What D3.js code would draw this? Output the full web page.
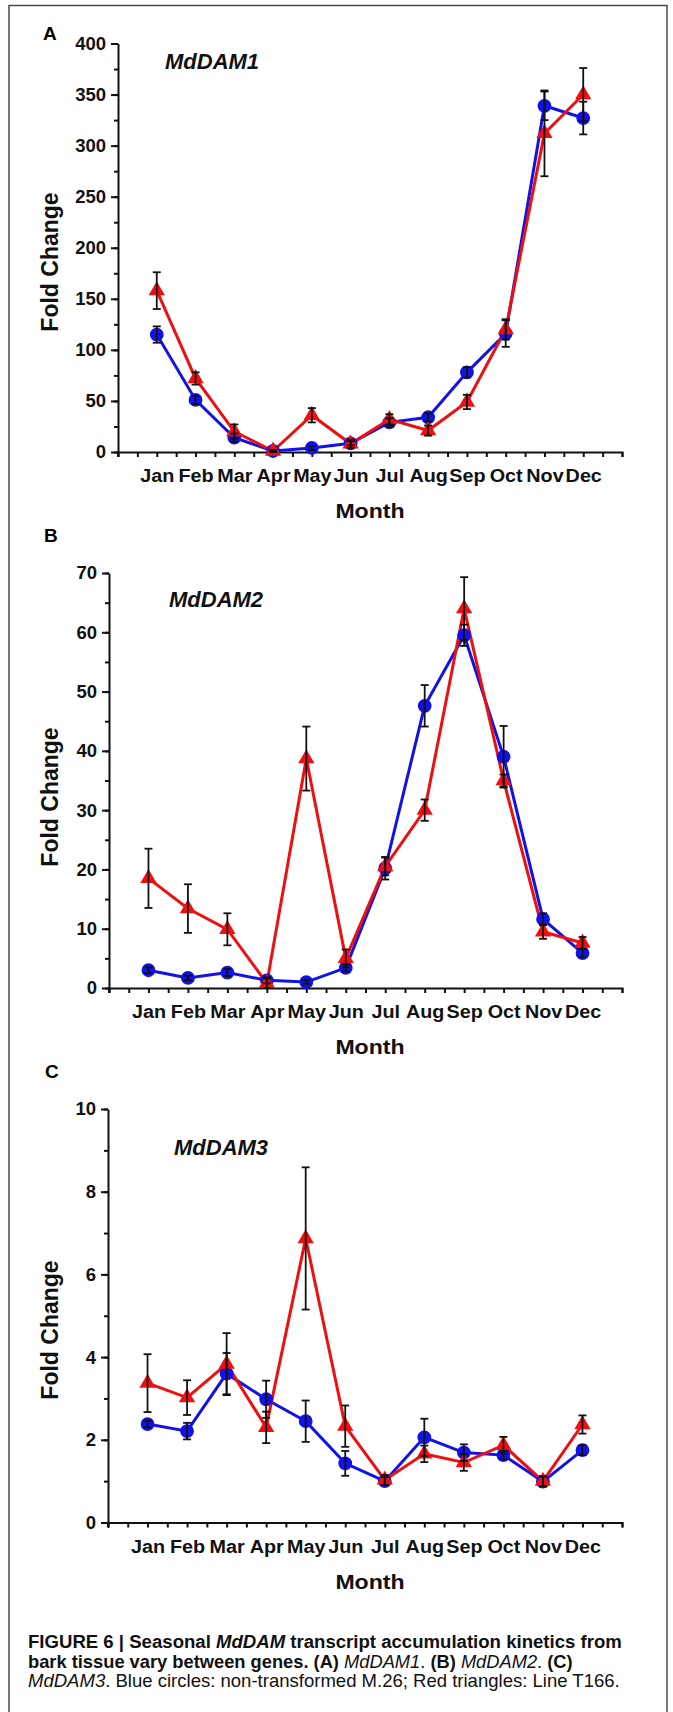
<!DOCTYPE html>
<html><head><meta charset="utf-8">
<script src="https://cdn.jsdelivr.net/npm/d3@7"></script>
<style>
html,body{margin:0;padding:0;background:#fff;}
svg{display:block;}
text{font-family:"Liberation Sans", Arial, sans-serif;}
</style></head>
<body>
<script>
// ---------- DATA ----------
const months = ["Jan","Feb","Mar","Apr","May","Jun","Jul","Aug","Sep","Oct","Nov","Dec"];

const dam1Blue    = [115, 51, 14, 1, 4, 8.5, 29, 34, 78, 116, 339, 327];
const dam1BlueErr = [8, 4, 4, 1, 2, 2, 4, 4, 5, 13, 14, 16];
const dam1Red     = [158, 72, 20, 1, 36, 8, 32, 21, 49, 120, 312, 350];
const dam1RedErr  = [18, 6, 7, 1, 7, 4, 5, 5, 7, 10, 42, 26];

const dam2Blue    = [3.0, 1.7, 2.6, 1.3, 1.0, 3.4, 20.2, 47.6, 59.5, 39.0, 11.6, 5.9];
const dam2BlueErr = [0.5, 0.4, 0.6, 0.5, 0.3, 0.6, 1.9, 3.5, 1.8, 5.2, 1.0, 0.7];
const dam2Red     = [18.5, 13.4, 9.9, 0.8, 38.7, 5.0, 20.5, 30.0, 64.0, 35.0, 9.5, 7.6];
const dam2RedErr  = [5.0, 4.1, 2.7, 0.8, 5.4, 1.5, 1.5, 1.8, 5.3, 1.0, 1.2, 1.0];

const dam3Blue    = [2.38, 2.21, 3.6, 2.98, 2.45, 1.43, 1.0, 2.06, 1.69, 1.63, 0.99, 1.75];
const dam3BlueErr = [0.08, 0.2, 0.5, 0.45, 0.5, 0.3, 0.1, 0.45, 0.2, 0.1, 0.12, 0.12];
const dam3Red     = [3.37, 3.02, 3.83, 2.3, 6.87, 2.33, 1.03, 1.66, 1.45, 1.87, 1.0, 2.37];
const dam3RedErr  = [0.7, 0.42, 0.75, 0.38, 1.72, 0.5, 0.12, 0.2, 0.2, 0.2, 0.12, 0.22];

const geneNames = ["MdDAM1","MdDAM2","MdDAM3"];
const panelLetters = ["A","B","C"];
const yMaxes = [400, 70, 10];
const yMajorSteps = [50, 10, 2];
const yLabel = "Fold Change";
const xLabel = "Month";

// ---------- LAYOUT ----------
const W = 673, H = 1712;
const BLUE = "#1212e6", RED = "#ee1010";

const panels = [
  {x0:118, x1:622, yTop:43.5, yBot:452, letter:[43,39.5], gene:[165,69], ylab:262,
   blue:dam1Blue, blueErr:dam1BlueErr, red:dam1Red, redErr:dam1RedErr},
  {x0:109, x1:622, yTop:573, yBot:988, letter:[44,541.5], gene:[169,607], ylab:797,
   blue:dam2Blue, blueErr:dam2BlueErr, red:dam2Red, redErr:dam2RedErr},
  {x0:108, x1:622, yTop:1109, yBot:1522.5, letter:[45,1078], gene:[174,1155], ylab:1330,
   blue:dam3Blue, blueErr:dam3BlueErr, red:dam3Red, redErr:dam3RedErr}
];

const svg = d3.select("body").append("svg").attr("width", W).attr("height", H);
svg.append("rect").attr("width", W).attr("height", H).attr("fill", "#fff");
svg.append("rect").attr("x", 9).attr("y", 5.5).attr("width", 658).attr("height", 1712)
  .attr("fill", "none").attr("stroke", "#4a4a4a").attr("stroke-width", 1.5);

panels.forEach((p, pi) => {
  const g = svg.append("g");
  const x = d3.scaleLinear().domain([0, 13]).range([p.x0, p.x1]);
  const y = d3.scaleLinear().domain([0, yMaxes[pi]]).range([p.yBot, p.yTop]);
  const step = yMajorSteps[pi];

  // x axis: ticks every half month
  const halfTicks = d3.range(0, 13.01, 0.5);
  const xAx = g.append("g").attr("transform", `translate(0,${p.yBot})`)
    .call(d3.axisBottom(x).tickValues(halfTicks).tickSizeOuter(0).tickSize(5).tickFormat(""));
  xAx.select(".domain").attr("stroke-width", 2).attr("stroke", "#111");
  xAx.selectAll(".tick line").attr("stroke-width", 2).attr("stroke", "#111");
  // x labels
  const xl = g.append("g").attr("transform", `translate(0,${p.yBot})`)
    .call(d3.axisBottom(x).tickValues(d3.range(1, 13)).tickSize(0).tickPadding(0)
      .tickFormat(d => months[d - 1]));
  xl.select(".domain").remove();
  xl.selectAll(".tick text").attr("y", 0).attr("dy", null)
    .attr("transform", "translate(0,30) scale(1.13,1)")
    .attr("font-size", 17.5).attr("font-weight", "bold").attr("fill", "#111")
    .attr("font-family", "Liberation Sans, Arial, sans-serif");

  // y axis minor
  const yMinor = g.append("g").attr("transform", `translate(${p.x0},0)`)
    .call(d3.axisLeft(y).tickValues(d3.range(0, yMaxes[pi] + 1e-9, step / 2)).tickSize(4).tickSizeOuter(0).tickFormat(""));
  yMinor.select(".domain").attr("stroke-width", 2).attr("stroke", "#111");
  yMinor.selectAll(".tick line").attr("stroke-width", 2).attr("stroke", "#111");
  const yMajor = g.append("g").attr("transform", `translate(${p.x0},0)`)
    .call(d3.axisLeft(y).tickValues(d3.range(0, yMaxes[pi] + 1e-9, step)).tickSize(7).tickSizeOuter(0).tickPadding(5));
  yMajor.select(".domain").remove();
  yMajor.selectAll(".tick line").attr("stroke-width", 2).attr("stroke", "#111");
  yMajor.selectAll(".tick text").attr("font-size", 18.5).attr("font-weight", "bold").attr("fill", "#111")
    .attr("font-family", "Liberation Sans, Arial, sans-serif");
  // extend y axis slightly below x axis
  g.append("line").attr("x1", p.x0).attr("x2", p.x0).attr("y1", p.yBot).attr("y2", p.yBot + 5)
    .attr("stroke", "#111").attr("stroke-width", 2);

  // axis titles
  g.append("text").attr("transform", `translate(58,${p.ylab}) rotate(-90)`)
    .attr("text-anchor", "middle").attr("font-size", 23).attr("font-weight", "bold").attr("fill", "#111")
    .text(yLabel);
  g.append("text").attr("transform", `translate(370,${p.yBot + 66}) scale(1.1,1)`).attr("text-anchor", "middle")
    .attr("font-size", 21).attr("font-weight", "bold").attr("fill", "#111").text(xLabel);

  // panel letter & gene name
  g.append("text").attr("x", p.letter[0]).attr("y", p.letter[1]).attr("font-size", 19)
    .attr("font-weight", "bold").attr("fill", "#000").text(panelLetters[pi]);
  g.append("text").attr("x", p.gene[0]).attr("y", p.gene[1]).attr("font-size", 22)
    .attr("font-weight", "bold").attr("font-style", "italic").attr("fill", "#111").text(geneNames[pi]);

  const line = d3.line().x((d, i) => x(i + 1)).y(d => y(d));
  g.append("path").datum(p.blue).attr("d", line).attr("fill", "none")
    .attr("stroke", BLUE).attr("stroke-width", 3);
  g.append("path").datum(p.red).attr("d", line).attr("fill", "none")
    .attr("stroke", RED).attr("stroke-width", 3);

  g.selectAll(".circ").data(p.blue).enter().append("path")
    .attr("transform", (d, i) => `translate(${x(i + 1)},${y(d)})`)
    .attr("d", d3.symbol().type(d3.symbolCircle).size(150))
    .attr("fill", BLUE);
  g.selectAll(".tri").data(p.red).enter().append("path")
    .attr("transform", (d, i) => `translate(${x(i + 1)},${y(d)})`)
    .attr("d", d3.symbol().type(d3.symbolTriangle).size(115))
    .attr("fill", RED);

  // error bars
  const errs = [[p.blue, p.blueErr], [p.red, p.redErr]];
  errs.forEach(([vals, er]) => {
    vals.forEach((v, i) => {
      const cx = x(i + 1);
      const yt = y(v + er[i]), yb = y(Math.max(0, v - er[i]));
      const eg = g.append("g").attr("stroke", "#111").attr("stroke-width", 1.8);
      eg.append("line").attr("x1", cx).attr("x2", cx).attr("y1", yt).attr("y2", yb);
      eg.append("line").attr("x1", cx - 4).attr("x2", cx + 4).attr("y1", yt).attr("y2", yt);
      eg.append("line").attr("x1", cx - 4).attr("x2", cx + 4).attr("y1", yb).attr("y2", yb);
    });
  });
});

// ---------- CAPTION ----------
const capLines = [
  {y:1648, w:594, parts:[["FIGURE 6 | Seasonal ","bold","normal"],["MdDAM","bold","italic"],[" transcript accumulation kinetics from","bold","normal"]]},
  {y:1668, w:545, parts:[["bark tissue vary between genes. (A) ","bold","normal"],["MdDAM1","normal","italic"],[". ","normal","normal"],["(B) ","bold","normal"],["MdDAM2","normal","italic"],[". ","normal","normal"],["(C)","bold","normal"]]},
  {y:1687, w:592, parts:[["MdDAM3","normal","italic"],[". Blue circles: non-transformed M.26; Red triangles: Line T166.","normal","normal"]]}
];
capLines.forEach(l => {
  const t = svg.append("text").attr("x", 0).attr("y", 0).attr("font-size", 17.5).attr("fill", "#111")
    .attr("xml:space", "preserve").style("white-space", "pre");
  l.parts.forEach(pt => t.append("tspan").attr("font-weight", pt[1]).attr("font-style", pt[2]).text(pt[0]));
  const bw = t.node().getComputedTextLength();
  t.attr("transform", `translate(28,${l.y}) scale(${l.w / bw},1)`);
});
</script>
</body></html>
